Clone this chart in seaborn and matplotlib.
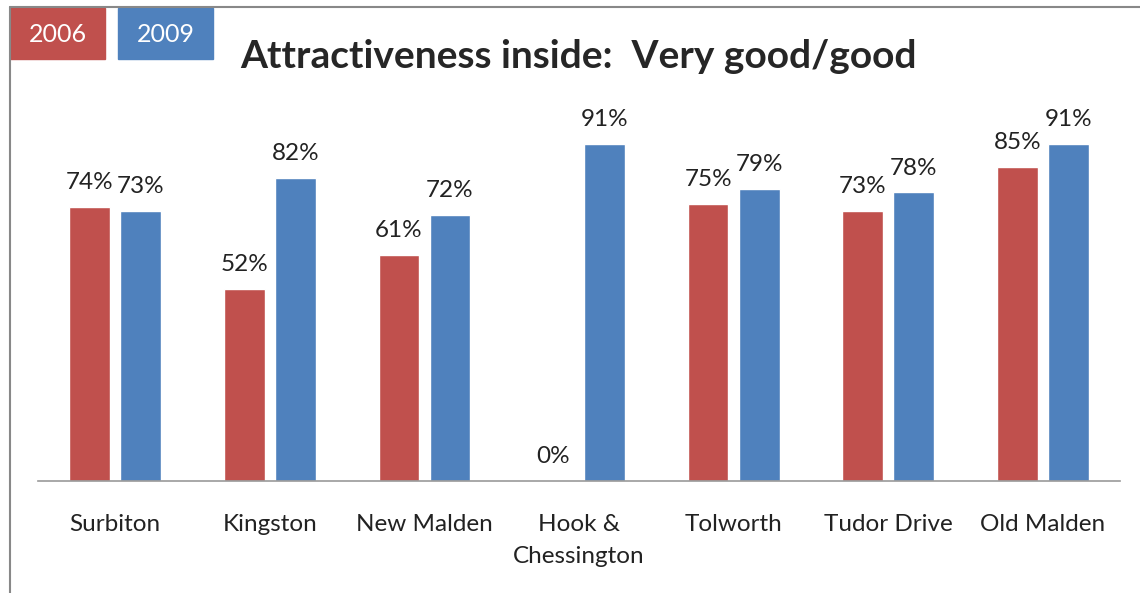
import pandas as pd
import matplotlib.pyplot as plt
import seaborn as sns
from matplotlib.patches import Rectangle
from matplotlib.lines import Line2D

areas = ["Surbiton", "Kingston", "New Malden", "Hook &\nChessington",
         "Tolworth", "Tudor Drive", "Old Malden"]
years = ["2006", "2009"]
vals_2006 = [74, 52, 61, 0, 75, 73, 85]
vals_2009 = [73, 82, 72, 91, 79, 78, 91]
colors = {"2006": "#C0504D", "2009": "#4F81BD"}

df = pd.DataFrame({
    "area": areas * 2,
    "year": ["2006"] * len(areas) + ["2009"] * len(areas),
    "value": vals_2006 + vals_2009,
})

sns.set_style("white")
plt.rcParams["font.family"] = ["Lato", "DejaVu Sans"]

fig = plt.figure(figsize=(11.4, 5.93), dpi=100)
ax = fig.add_axes([0.0333, 0.1889, 0.9492, 0.6239])

sns.barplot(data=df, x="area", y="value", hue="year", order=areas,
            hue_order=years, palette=colors, width=0.66, gap=0.2,
            saturation=1, legend=False, ax=ax)

for cont in ax.containers:
    ax.bar_label(cont, labels=[f"{v:.0f}%" for v in cont.datavalues],
                 padding=10, fontsize=17.5, color="#222222")

ax.set_ylim(0, 100)
ax.set_xlim(-0.5, len(areas) - 0.5)
ax.set(xlabel=None, ylabel=None)
ax.set_yticks([])
for s in ["top", "right", "left"]:
    ax.spines[s].set_visible(False)
ax.spines["bottom"].set_color("#999999")
ax.spines["bottom"].set_linewidth(1.2)
ax.tick_params(axis="x", length=0, pad=24, labelsize=17.5, labelcolor="#222222")
for lbl in ax.get_xticklabels():
    lbl.set_linespacing(1.65)

fig.text(0.507, 0.905, "Attractiveness inside:  Very good/good",
         ha="center", va="center", fontsize=28, fontweight="bold")

# legend boxes
for x0, yr in [(10, "2006"), (118, "2009")]:
    fig.patches.append(Rectangle((x0 / 1140, 1 - 59 / 593), 95 / 1140, 51 / 593,
                                 transform=fig.transFigure, color=colors[yr]))
    fig.text((x0 + 47.5) / 1140, 1 - 34 / 593, yr, ha="center", va="center",
             color="white", fontsize=18)

# outer frame (top and left)
fig.lines.append(Line2D([10 / 1140, 1], [1 - 7 / 593, 1 - 7 / 593],
                        transform=fig.transFigure, color="#888888", lw=1.5))
fig.lines.append(Line2D([10 / 1140, 10 / 1140], [0, 1 - 7 / 593],
                        transform=fig.transFigure, color="#888888", lw=1.5))

fig.savefig("out.png", dpi=100)
